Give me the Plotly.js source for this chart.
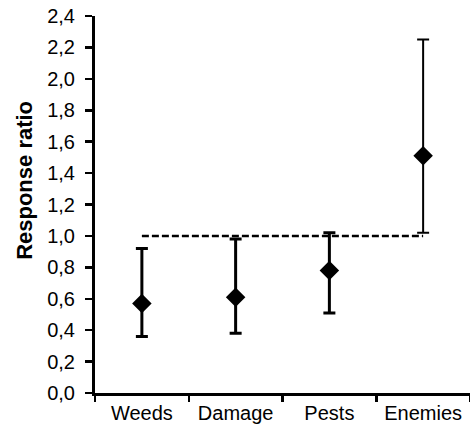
<!DOCTYPE html>
<html>
<head>
<meta charset="utf-8">
<script src="https://cdn.plot.ly/plotly-3.0.1.min.js"></script>
<style>html,body{margin:0;padding:0;background:#fff;}#chart{width:470px;height:429px;}</style>
</head>
<body>
<div id="chart"></div>
<script>
var categories = ["Weeds", "Damage", "Pests", "Enemies"];
var means = [0.57, 0.61, 0.78, 1.51];
var upper = [0.92, 0.98, 1.02, 2.25];
var lower = [0.36, 0.38, 0.51, 1.02];
var reference = [1, 1, 1, 1];
var yTitle = "Response ratio";

var font = "Liberation Sans, Arial, sans-serif";
var traces = [];
traces.push({
  x: categories, y: reference, type: "scatter", mode: "lines",
  line: {color: "#000", width: 2.5, dash: "7px,3px"}, hoverinfo: "skip"
});
for (var i = 0; i < categories.length; i++) {
  traces.push({
    x: [categories[i]], y: [means[i]], type: "scatter", mode: "markers",
    marker: {symbol: "diamond", size: 15, color: "#000"},
    error_y: {type: "data", symmetric: false,
      array: [upper[i] - means[i]], arrayminus: [means[i] - lower[i]],
      color: "#000", thickness: i === 3 ? 2 : 3, width: 6}
  });
}
var layout = {
  width: 470, height: 429,
  margin: {l: 95, r: 0, t: 16, b: 36},
  showlegend: false,
  separators: ",.",
  paper_bgcolor: "#fff", plot_bgcolor: "#fff",
  font: {family: font, color: "#000"},
  xaxis: {
    type: "category", categoryorder: "array", categoryarray: categories,
    range: [-0.5, 3.5], tickson: "boundaries", ticks: "outside",
    ticklen: 6, tickwidth: 2.5, tickcolor: "#000",
    showline: true, linewidth: 3, linecolor: "#000",
    showgrid: false, zeroline: false,
    tickfont: {size: 20, family: font, color: "#000"}
  },
  yaxis: {
    range: [0, 2.4], dtick: 0.2, tick0: 0, tickformat: ".1f",
    ticks: "outside", ticklen: 7, tickwidth: 2.5, tickcolor: "#000",
    showline: true, linewidth: 3, linecolor: "#000",
    showgrid: false, zeroline: false, ticklabelstandoff: 6,
    tickfont: {size: 20, family: font, color: "#000"}
  },
  annotations: [{
    text: "<b>" + yTitle + "</b>", textangle: -90,
    xref: "paper", yref: "paper", x: -0.187, y: 0.565,
    xanchor: "center", yanchor: "middle", showarrow: false,
    font: {size: 22, family: font, color: "#000"}
  }]
};
Plotly.newPlot("chart", traces, layout, {displayModeBar: false, staticPlot: true});
</script>
</body>
</html>
